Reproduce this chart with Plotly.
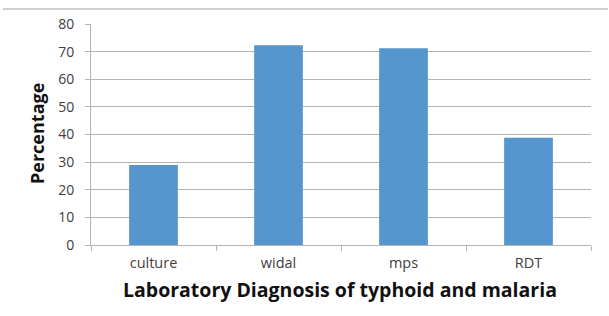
import plotly.graph_objects as go

categories = ["culture", "widal", "mps", "RDT"]
percentages = [29.0, 72.3, 71.2, 38.8]
y_ticks = [0, 10, 20, 30, 40, 50, 60, 70, 80]

fig = go.Figure()
fig.add_trace(go.Bar(
    x=categories, y=percentages,
    marker=dict(color="#5596CF", line=dict(width=0)),
    width=0.39,
))

W, H = 609, 316
L, R, T, B = 91, 18, 24, 71
PW, PH = W - L - R, H - T - B
AX = "#b4b4b4"
fig.update_layout(
    width=W, height=H,
    margin=dict(l=L, r=R, t=T, b=B, autoexpand=False),
    paper_bgcolor="white", plot_bgcolor="white",
    showlegend=False,
    font=dict(family="Open Sans, Liberation Sans, sans-serif", color="#404040"),
    xaxis=dict(
        automargin=False,
        tickson="boundaries", ticks="outside", ticklen=5, tickcolor=AX,
        showline=True, linecolor=AX, linewidth=1,
        tickfont=dict(size=14.5, color="#404040"),
        ticklabelstandoff=5,
    ),
    yaxis=dict(
        automargin=False,
        range=[0, 80], tickvals=y_ticks,
        showgrid=True, gridcolor="#b4b4b4", gridwidth=1,
        ticks="outside", ticklen=5, tickcolor=AX,
        showline=True, linecolor=AX, linewidth=1,
        tickfont=dict(size=14, color="#404040"),
        ticklabelstandoff=8,
        zeroline=False,
    ),
    shapes=[dict(type="line", xref="paper", yref="paper", layer="above",
                 x0=(3 - L) / PW, x1=(608 - L) / PW,
                 y0=(245 - 9) / PH, y1=(245 - 9) / PH,
                 line=dict(color="#a0a0a0", width=1))],
    annotations=[
        dict(text="<b>Laboratory Diagnosis of typhoid and malaria</b>",
             xref="paper", yref="paper",
             x=(340 - L) / PW, y=(245 - 289) / PH,
             xanchor="center", yanchor="middle", showarrow=False,
             font=dict(size=19.5, color="#111111")),
        dict(text="<b>Percentage</b>", textangle=-90,
             xref="paper", yref="paper",
             x=(37 - L) / PW, y=(245 - 134) / PH,
             xanchor="center", yanchor="middle", showarrow=False,
             font=dict(size=18, color="#111111")),
    ],
)

fig.write_html("out.html",
               config={"displayModeBar": False},
               post_script="document.body.style.margin='0';document.body.style.overflow='hidden';")
